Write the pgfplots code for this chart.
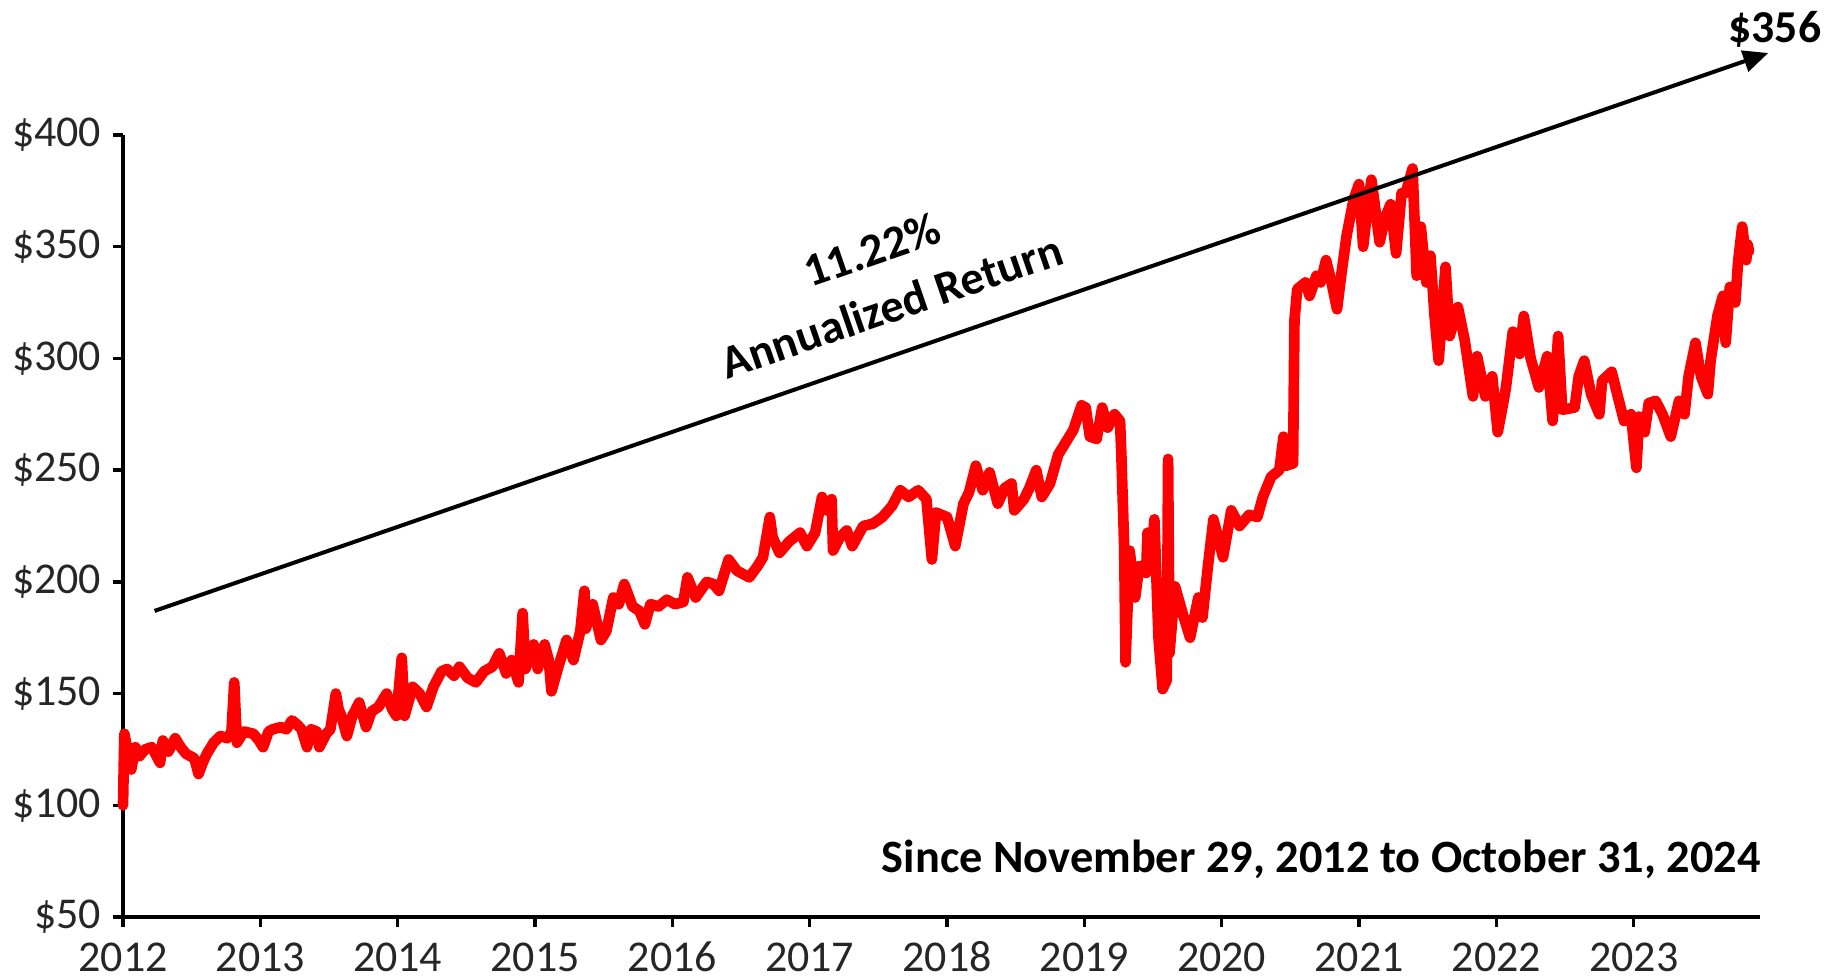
\documentclass[border=0pt]{standalone}
\usepackage{fontspec}
\setmainfont{Carlito}
\usepackage{pgfplots}
\pgfplotsset{compat=1.18}
\usetikzlibrary{arrows.meta}

\pgfplotstableread{
x y
2012.00 100
2012.01 132
2012.04 122
2012.06 116
2012.09 126
2012.12 122
2012.16 125
2012.21 126
2012.27 119
2012.29 129
2012.33 124
2012.38 130
2012.42 126
2012.46 123
2012.52 121
2012.55 114
2012.58 119
2012.61 123
2012.66 128
2012.71 131
2012.76 130
2012.79 133
2012.81 155
2012.83 128
2012.88 133
2012.95 132
2012.99 129
2013.02 126
2013.06 133
2013.09 134
2013.15 135
2013.19 134
2013.23 138
2013.27 136
2013.30 134
2013.34 126
2013.37 134
2013.41 133
2013.43 126
2013.48 132
2013.51 134
2013.55 150
2013.57 143
2013.59 140
2013.63 131
2013.67 140
2013.72 146
2013.77 135
2013.81 142
2013.86 144
2013.92 150
2013.96 143
2013.99 140
2014.03 166
2014.05 140
2014.11 153
2014.16 150
2014.21 144
2014.26 153
2014.32 160
2014.36 161
2014.41 158
2014.45 162
2014.51 157
2014.57 155
2014.63 160
2014.69 162
2014.74 168
2014.79 159
2014.83 165
2014.88 155
2014.91 186
2014.93 161
2014.99 172
2015.02 161
2015.07 172
2015.10 165
2015.12 151
2015.17 162
2015.23 174
2015.28 165
2015.33 178
2015.36 196
2015.37 179
2015.42 190
2015.48 174
2015.52 178
2015.57 193
2015.61 190
2015.65 199
2015.71 189
2015.76 187
2015.80 181
2015.84 190
2015.90 189
2015.96 192
2016.02 190
2016.08 191
2016.11 202
2016.17 193
2016.25 200
2016.30 199
2016.34 196
2016.41 210
2016.47 205
2016.56 202
2016.62 207
2016.66 211
2016.71 229
2016.73 220
2016.78 213
2016.85 218
2016.93 222
2016.98 216
2017.04 222
2017.09 238
2017.12 232
2017.16 237
2017.17 214
2017.22 220
2017.27 223
2017.31 216
2017.39 225
2017.46 226
2017.53 229
2017.60 234
2017.66 241
2017.72 238
2017.79 241
2017.85 237
2017.89 210
2017.92 231
2018.00 229
2018.06 216
2018.12 235
2018.16 240
2018.21 252
2018.26 241
2018.31 249
2018.37 235
2018.42 242
2018.47 244
2018.49 232
2018.56 237
2018.60 242
2018.65 250
2018.69 238
2018.75 244
2018.81 257
2018.86 262
2018.92 268
2018.98 279
2019.01 278
2019.04 265
2019.09 264
2019.13 278
2019.17 269
2019.22 275
2019.26 272
2019.27 256
2019.29 216
2019.30 164
2019.33 214
2019.37 193
2019.40 207
2019.45 204
2019.46 222
2019.49 210
2019.51 228
2019.54 175
2019.57 152
2019.60 156
2019.61 255
2019.62 168
2019.66 198
2019.72 185
2019.77 175
2019.83 193
2019.86 184
2019.90 207
2019.94 228
2020.01 211
2020.07 232
2020.13 225
2020.20 230
2020.26 229
2020.30 238
2020.36 247
2020.42 250
2020.45 265
2020.47 252
2020.52 253
2020.53 317
2020.55 331
2020.61 334
2020.64 328
2020.69 337
2020.72 334
2020.76 344
2020.80 334
2020.84 322
2020.87 337
2020.91 355
2020.96 371
2021.00 378
2021.03 350
2021.06 366
2021.09 380
2021.11 371
2021.15 352
2021.19 363
2021.23 369
2021.27 347
2021.31 374
2021.34 374
2021.39 385
2021.42 337
2021.45 359
2021.49 334
2021.52 346
2021.55 319
2021.58 299
2021.63 341
2021.66 310
2021.72 323
2021.77 308
2021.83 283
2021.86 301
2021.92 283
2021.97 292
2022.01 267
2022.05 280
2022.07 287
2022.12 312
2022.17 302
2022.20 319
2022.25 300
2022.31 287
2022.37 301
2022.41 272
2022.45 310
2022.48 277
2022.57 278
2022.60 292
2022.64 299
2022.69 284
2022.75 275
2022.77 290
2022.84 294
2022.88 284
2022.93 272
2022.98 275
2023.02 251
2023.04 274
2023.08 267
2023.11 280
2023.16 281
2023.21 275
2023.27 265
2023.33 281
2023.37 275
2023.40 292
2023.45 307
2023.49 292
2023.54 284
2023.56 299
2023.61 319
2023.65 328
2023.67 307
2023.70 332
2023.74 325
2023.76 343
2023.79 359
2023.82 344
2023.83 351
2023.84 348
}\nav

\begin{document}
\begin{tikzpicture}
\useasboundingbox (-36.9pt,-18.6pt) rectangle (516pt,275.1pt);
\begin{axis}[
  at={(0,0)}, anchor=south west,
  scale only axis, width=491.1pt, height=234.6pt,
  xmin=2012, xmax=2023.92, ymin=50, ymax=400,
  axis lines=left,
  axis line style={line width=1pt,-},
  xtick={2012,2013,2014,2015,2016,2017,2018,2019,2020,2021,2022,2023},
  xticklabels={2012,2013,2014,2015,2016,2017,2018,2019,2020,2021,2022,2023},
  ytick={50,100,150,200,250,300,350,400},
  yticklabels={\$50,\$100,\$150,\$200,\$250,\$300,\$350,\$400},
  tick align=outside,
  major tick length=3pt,
  tick style={line width=1pt, black},
  ticklabel style={font=\fontsize{13.2}{15}\selectfont, text=black!85},
  xticklabel style={text height=8.5pt, text depth=0pt, inner sep=0pt, yshift=-4.7pt},
  clip=false,
]
\addplot[color=red, line width=3.2pt, line join=round, line cap=round] table[x=x,y=y] {\nav};
\draw[line width=1.2pt, -{Triangle[length=7.5pt,width=6.5pt]}] (axis cs:2012.23,187) -- (axis cs:2023.98,436.7);
\node[anchor=base east, inner sep=0pt, font=\fontsize{13.7}{16}\selectfont\bfseries] at (axis cs:2024.37,441.6) {\$356};
\node[anchor=base east, inner sep=0pt, font=\fontsize{13.9}{16}\selectfont\bfseries] at (axis cs:2023.93,70) {Since November 29, 2012 to October 31, 2024};
\node[rotate=19, align=center, inner sep=0pt, font=\fontsize{14}{17.9}\selectfont\bfseries] at (axis cs:2017.524,336) {11.22\%\\Annualized Return};
\end{axis}
\end{tikzpicture}
\end{document}
